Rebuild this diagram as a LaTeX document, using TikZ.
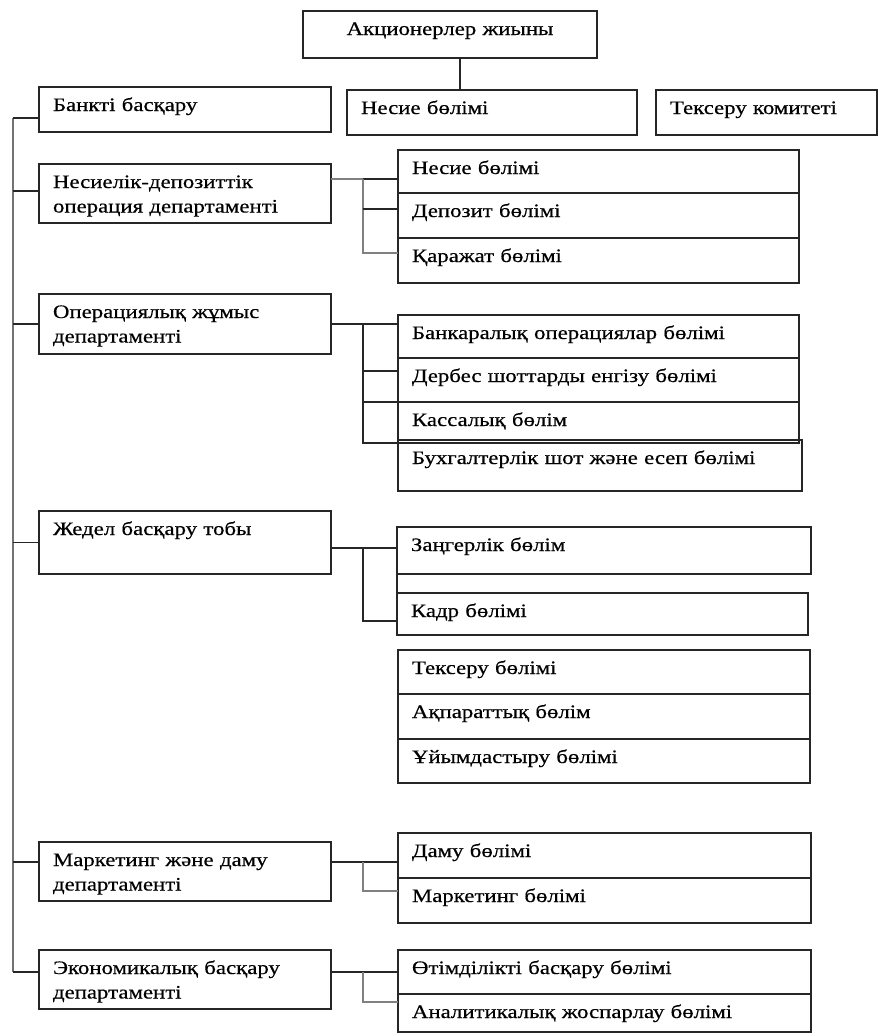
\documentclass[tikz,border=0pt]{standalone}
\usepackage{fontspec}
\setmainfont{Liberation Serif}[FakeStretch=1.2, FakeBold=0.5]
\begin{document}
\begin{tikzpicture}[
  x=1pt, y=-1pt,
  box/.style n args={2}{draw=black!85, line width=1.8pt, anchor=north west, outer sep=0pt,
                 inner xsep=14pt, inner ysep=0pt, align=left,
                 text width=#1pt-28pt, text height=24pt, text depth=#2pt-24pt,
                 font=\fontsize{19}{24.5}\selectfont},
  link/.style={line width=1.8pt, draw=black!85},
  glink/.style={line width=2.4pt, draw=black!50},
  trunk/.style={line width=2.6pt, draw=black!55},
]
  \useasboundingbox (0,0) rectangle (878,1036);

  % Top
  \node[box={294}{47}, align=center] (akc) at (303,11) {Акционерлер жиыны};
  \node[box={292}{45}] (bank) at (39,87) {Банкті басқару};
  \node[box={290}{45}] (nes) at (347,90) {Несие бөлімі};
  \node[box={221}{45}] (tkom) at (656,90) {Тексеру комитеті};

  % Departments
  \node[box={292}{59}] (nd) at (39,164) {Несиелік-депозиттік\\операция департаменті};
  \node[box={292}{60}] (op) at (39,294) {Операциялық жұмыс\\департаменті};
  \node[box={292}{63}] (zhd) at (39,511) {Жедел басқару тобы};
  \node[box={292}{59}] (mark) at (39,842) {Маркетинг және даму\\департаменті};
  \node[box={292}{59}] (econ) at (39,950) {Экономикалық басқару\\департаменті};

  % Sections
  \node[box={401}{43}] (n1) at (398,150) {Несие бөлімі};
  \node[box={401}{45}] (dep) at (398,193) {Депозит бөлімі};
  \node[box={401}{45}] (kar) at (398,238) {Қаражат бөлімі};

  \node[box={401}{43}] (bnk) at (398,315) {Банкаралық операциялар бөлімі};
  \node[box={401}{44}] (derb) at (398,358) {Дербес шоттарды енгізу бөлімі};
  \node[box={401}{41}] (kas) at (398,402) {Кассалық бөлім};
  \node[box={404}{51}] (buh) at (398,440) {Бухгалтерлік шот және есеп бөлімі};

  \node[box={414}{47}] (zan) at (397,527) {Заңгерлік бөлім};
  \node[box={411}{42}] (kadr) at (397,593) {Кадр бөлімі};

  \node[box={412}{44}] (tex) at (398,650) {Тексеру бөлімі};
  \node[box={412}{45}] (akp) at (398,694) {Ақпараттық бөлім};
  \node[box={412}{44}] (uyim) at (398,739) {Ұйымдастыру бөлімі};

  \node[box={413}{45}] (dam) at (398,833) {Даму бөлімі};
  \node[box={413}{45}] (mb) at (398,878) {Маркетинг бөлімі};

  \node[box={413}{44}] (ot) at (398,950) {Өтімділікті басқару бөлімі};
  \node[box={413}{38}] (anal) at (398,994) {Аналитикалық жоспарлау бөлімі};

  % Lines
  \draw[link] ([xshift=10pt]akc.south) -- ([xshift=10pt]akc.south |- nes.north);

  \coordinate (ttop) at (13,118);
  \coordinate (tbot) at (13,972);
  \draw[trunk] (ttop) -- (tbot);
  \draw[link] (ttop) -- ([yshift=-8.5pt]bank.west);
  \draw[link] (tbot) -- ([yshift=7.5pt]econ.west);
  \foreach \n/\s in {nd/2.5, op/0, zhd/0, mark/9.5}
    \draw[link] ([yshift=\s pt]\n.west) -- ++(-26,0);

  \draw[glink] ([yshift=14.5pt]nd.east) -- ++(32,0) coordinate (g1);
  \draw[link] (g1) -- ([yshift=-7.5pt]n1.west);
  \draw[glink] (g1) |- ([yshift=7.5pt]kar.west);
  \draw[link] ([yshift=6.5pt]dep.west) -- ++(-35,0);

  \draw[link] (op.east) -- ([yshift=12.5pt]bnk.west);
  \path (op.east) ++(32,0) coordinate (g2);
  \draw[link] (g2) |- (kas.south west);
  \draw[link] ([yshift=9pt]derb.west) -- ++(-35,0);
  \draw[link] (kas.north west) -- ++(-35,0);

  \draw[link] ([yshift=-5.5pt]zhd.east) -- ([yshift=2.5pt]zan.west);
  \path ([yshift=-5.5pt]zhd.east) ++(32,0) coordinate (g3);
  \draw[link] (g3) |- ([yshift=-7pt]kadr.west);
  \draw[link] (zan.south west) -- (kadr.north west);

  \draw[link] ([yshift=9.5pt]mark.east) -- ([yshift=-6.5pt]dam.west);
  \path ([yshift=9.5pt]mark.east) ++(32,0) coordinate (g5);
  \draw[glink] (g5) |- ([yshift=9.5pt]mb.west);

  \draw[link] ([yshift=7.5pt]econ.east) -- (ot.west);
  \path ([yshift=7.5pt]econ.east) ++(32,0) coordinate (g6);
  \draw[glink] (g6) |- ([yshift=11pt]anal.west);
\end{tikzpicture}
\end{document}
